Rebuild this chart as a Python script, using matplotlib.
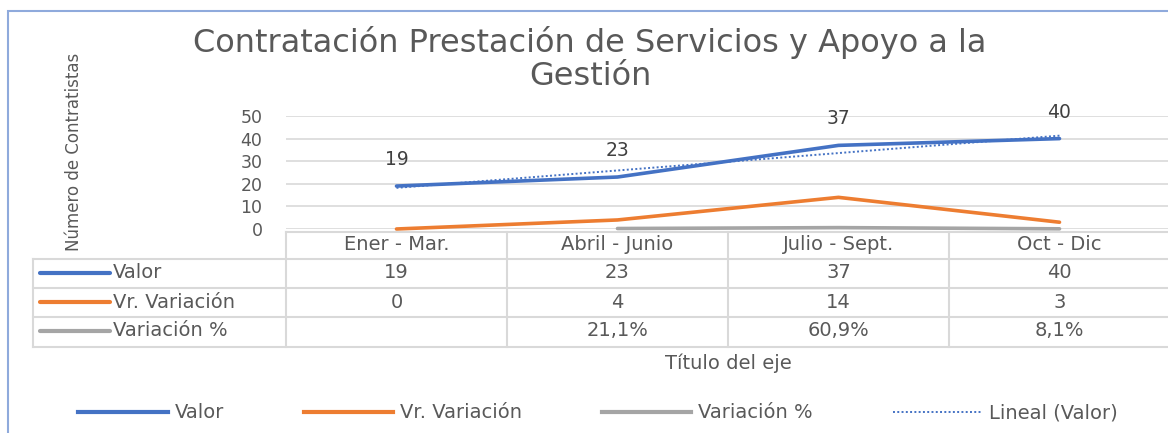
import numpy as np
import matplotlib
matplotlib.use('Agg')
import matplotlib.pyplot as plt
import matplotlib.transforms as mtransforms
from matplotlib.lines import Line2D
from matplotlib.patches import Rectangle

# Datos del gráfico
trimestres = ['Ener - Mar.', 'Abril - Junio', 'Julio - Sept.', 'Oct - Dic']
valor = [19, 23, 37, 40]
vr_variacion = [0, 4, 14, 3]
variacion_pct = [np.nan, 21.1, 60.9, 8.1]   # en %

AZUL = '#4472C4'
NARANJA = '#ED7D31'
GRIS = '#A5A5A5'
TEXTO = '#595959'
REJILLA = '#D9D9D9'

plt.rcParams['font.family'] = ['DejaVu Sans']

W, H = 1168, 433
fig = plt.figure(figsize=(W / 100, H / 100), dpi=100)

def fx(px):
    return px / W

def fy(py):
    return 1 - py / H

# área del gráfico (0 en y=229 px, 50 en y=116 px)
ax = fig.add_axes([fx(286), fy(229), fx(1170) - fx(286), fy(116) - fy(229)])
x = np.arange(len(trimestres))
ax.set_xlim(-0.5, len(trimestres) - 0.5)
ax.set_ylim(0, 50)
ax.set_yticks(range(0, 51, 10))
ax.set_xticks([])
ax.tick_params(axis='y', length=0, pad=17, labelsize=12.5, labelcolor=TEXTO)
for s in ax.spines.values():
    s.set_visible(False)
ax.grid(axis='y', color=REJILLA, lw=1.2)
ax.set_axisbelow(True)

# series
ax.plot(x, valor, color=AZUL, lw=2.6, clip_on=False, solid_capstyle='round', zorder=4)
ax.plot(x, vr_variacion, color=NARANJA, lw=2.6, clip_on=False, solid_capstyle='round', zorder=3)
ax.plot(x, np.array(variacion_pct) / 100, color=GRIS, lw=2.6, clip_on=False,
        solid_capstyle='round', zorder=3)

# línea de tendencia lineal (Valor)
coef = np.polyfit(x, valor, 1)
ax.plot(x, np.polyval(coef, x), color=AZUL, lw=1.4, ls=(0, (1, 1.2)), zorder=5)

# etiquetas de datos
for xi, v in zip(x, valor):
    ax.annotate(str(v), (xi, v), xytext=(0, 19), textcoords='offset points',
                ha='center', va='center', fontsize=13.5, color='#404040')

# título y eje y
fig.text(fx(590), fy(59), 'Contratación Prestación de Servicios y Apoyo a la\nGestión',
         ha='center', va='center', fontsize=23, color=TEXTO, linespacing=1.1)
fig.text(fx(74), fy(152), 'Número de Contratistas', rotation=90, ha='center', va='center',
         fontsize=12, color=TEXTO)

# tabla de datos
tr = mtransforms.blended_transform_factory(ax.transData, fig.transFigure)
col_w = 221.0
x_lab = -0.5 - (286 - 33) / col_w
x_sw0 = -0.5 - (286 - 40) / col_w
x_sw1 = -0.5 - (286 - 110) / col_w
x_txt = -0.5 - (286 - 113) / col_w
x_fin = 3.5 + 10 / col_w

filas_y = [232, 259, 288, 317, 347]
ax.add_line(Line2D([-0.5, x_fin], [fy(filas_y[0])] * 2, transform=tr, color=REJILLA, lw=1.5, clip_on=False))
for py in filas_y[1:]:
    ax.add_line(Line2D([x_lab, x_fin], [fy(py)] * 2, transform=tr, color=REJILLA, lw=1.5, clip_on=False))
ax.add_line(Line2D([x_lab, x_lab], [fy(259), fy(347)], transform=tr, color=REJILLA, lw=1.5, clip_on=False))
for xb in np.arange(len(trimestres)) - 0.5:
    ax.add_line(Line2D([xb, xb], [fy(232), fy(347)], transform=tr, color=REJILLA, lw=1.5, clip_on=False))

for xi, t in zip(x, trimestres):
    ax.text(xi, fy(245), t, transform=tr, ha='center', va='center', fontsize=14, color=TEXTO)

filas = [
    ('Valor', AZUL, [str(v) for v in valor], 273),
    ('Vr. Variación', NARANJA, [str(v) for v in vr_variacion], 302),
    ('Variación %', GRIS, ['' if np.isnan(v) else f'{v:.1f}%'.replace('.', ',') for v in variacion_pct], 331),
]
for nombre, color, textos, py in filas:
    ax.add_line(Line2D([x_sw0, x_sw1], [fy(py)] * 2, transform=tr, color=color, lw=3,
                       solid_capstyle='round', clip_on=False))
    ax.text(x_txt, fy(py), nombre, transform=tr, ha='left', va='center', fontsize=14, color=TEXTO)
    for xi, t in zip(x, textos):
        ax.text(xi, fy(py), t, transform=tr, ha='center', va='center', fontsize=14, color=TEXTO)

fig.text(fx(728), fy(363), 'Título del eje', ha='center', va='center', fontsize=14, color=TEXTO)

# leyenda
handles = [
    Line2D([], [], color=AZUL, lw=3),
    Line2D([], [], color=NARANJA, lw=3),
    Line2D([], [], color=GRIS, lw=3),
    Line2D([], [], color=AZUL, lw=1.4, ls=(0, (1, 1.2))),
]
etiquetas = ['Valor', 'Vr. Variación', 'Variación %', 'Lineal (Valor)']
leg = fig.legend(handles, etiquetas, loc='center', bbox_to_anchor=(fx(598), fy(413)), ncol=4,
                 frameon=False, fontsize=14, handlelength=4.6, handletextpad=0.36, columnspacing=4.1)
for t in leg.get_texts():
    t.set_color(TEXTO)

# marco del gráfico
fig.add_artist(Rectangle((fx(8), -0.2), 1.5, fy(11) + 0.2, transform=fig.transFigure,
                         fill=False, edgecolor='#8FAADC', lw=1.5))

fig.savefig('out.png', dpi=100)
